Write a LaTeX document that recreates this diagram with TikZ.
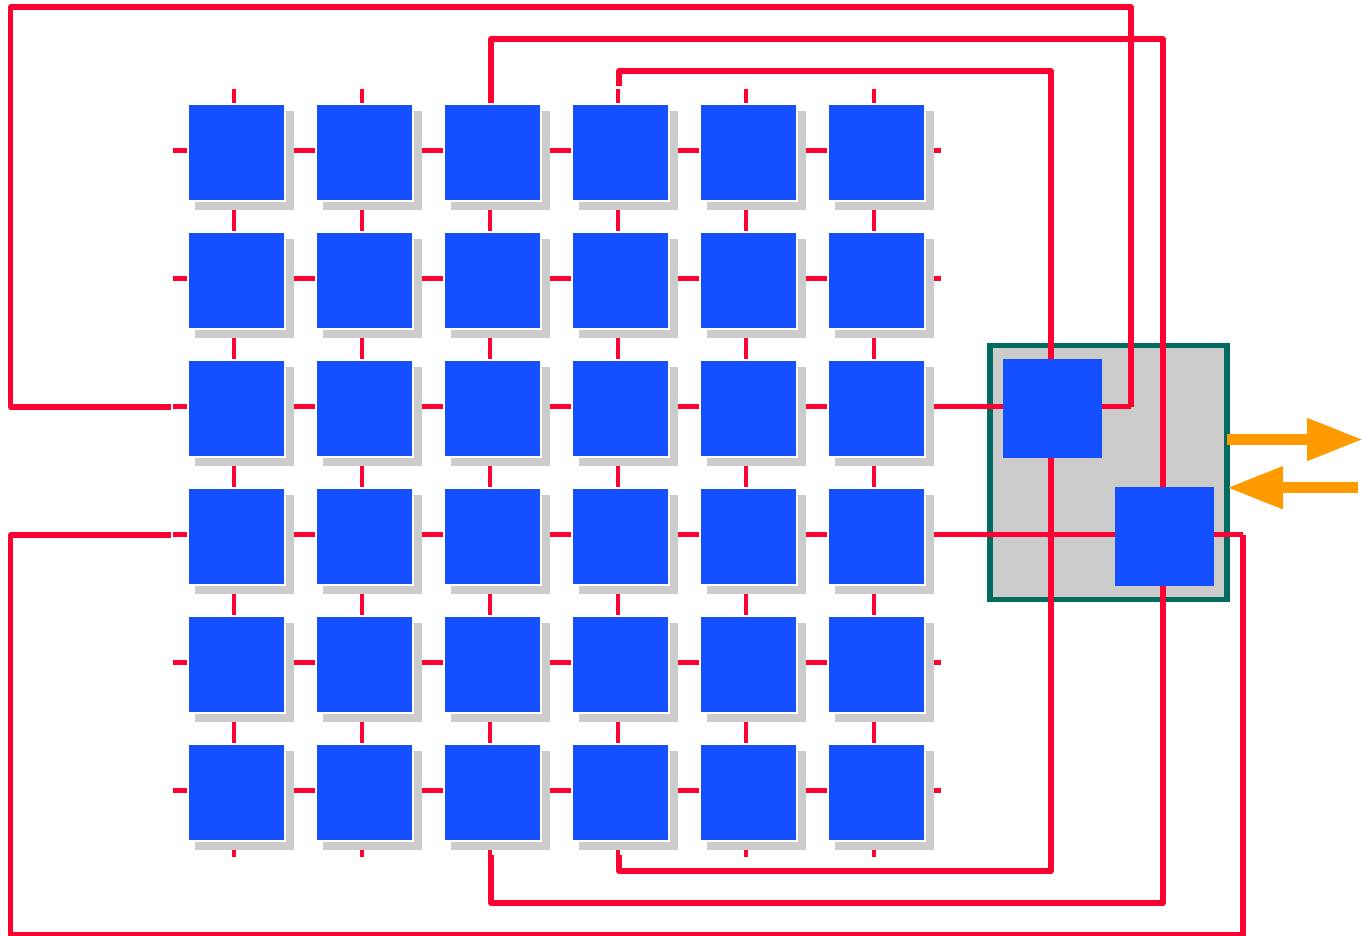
\documentclass[tikz,border=0pt]{standalone}
\usepackage{xcolor}
\usepackage{tikz}
\usetikzlibrary{arrows.meta, backgrounds, shadows}
\definecolor{wirered}{HTML}{FF0033}
\definecolor{cellblue}{HTML}{1450FF}
\definecolor{chipteal}{HTML}{006B5E}
\definecolor{chipgray}{HTML}{CCCCCC}
\definecolor{busorange}{HTML}{FF9B00}

\begin{document}
\begin{tikzpicture}[
  x=1pt, y=-1pt,
  cell/.style={draw=white, line width=2pt, fill=cellblue, minimum size=96.6pt, inner sep=0pt, outer sep=0pt,
    general shadow={shadow xshift=8.2pt, shadow yshift=-8.2pt, shadow scale=1.025, fill=chipgray}},
  iobox/.style={fill=cellblue, minimum size=98.6pt, inner sep=0pt, outer sep=0pt},
  chip/.style={draw=chipteal, line width=5.2pt, fill=chipgray, minimum width=237pt, minimum height=253.4pt, inner sep=0pt, outer sep=0pt},
  link/.style={draw=wirered, line width=4.2pt},
  wire/.style={draw=wirered, line width=5.4pt, line join=round},
  bus/.style={draw=busorange, fill=busorange, line width=11pt, -{Triangle[length=56pt, width=40pt]}}
]
\useasboundingbox (0,0) rectangle (1363,936);

% processor grid
\foreach \r in {1,...,6} {
  \foreach \c in {1,...,6} {
    \node[cell] (c\r-\c) at ({236.3+128*(\c-1)},{152.3+128*(\r-1)}) {};
    \coordinate (p\r-\c) at ({234.2+128*(\c-1)},{150.5+128*(\r-1)});
  }
}

\node[iobox] (boxa) at (1052.4,408.4) {};
\node[iobox] (boxb) at (1164.4,536.4) {};

% free ends
\foreach \k in {1,...,6} {
  \coordinate (nt\k) at ({234.2+128*(\k-1)},89);
  \coordinate (nb\k) at ({234.2+128*(\k-1)},857);
  \coordinate (nl\k) at (173,{150.5+128*(\k-1)});
  \coordinate (nr\k) at (941,{150.5+128*(\k-1)});
}
\coordinate (wl3) at (170.5,407);
\coordinate (wl4) at (170.5,535);
\coordinate (wt3) at (491,103);
\coordinate (wb3) at (491,855);
\coordinate (wt4) at (619,86);
\coordinate (wb4) at (619,855);
\coordinate (ja) at (1131,406.5);
\coordinate (jb) at (1163,536);
\coordinate (jc) at (1243,534.5);
\coordinate (ka) at (1051,408);
\coordinate (outend) at (1363,439.5);
\coordinate (instart) at (1358,487.7);

\begin{scope}[on background layer]
  \node[chip] (soc) at (1108.5,472.5) {};

  \foreach \r in {1,...,6} {
    \draw[link] (nl\r) -- (p\r-1);
    \draw[link] (nt\r) -- (p1-\r);
    \draw[link] (nb\r) -- (p6-\r);
    \foreach \c [count=\n from 2] in {1,...,5} {
      \draw[link] (p\r-\c) -- (p\r-\n);
      \draw[link] (p\c-\r) -- (p\n-\r);
    }
  }
  \foreach \r in {1,2,5,6} {
    \draw[link] (p\r-6) -- (nr\r);
  }
  \draw[link] (p3-6) -- (boxa |- p3-6);
  \draw[link] (p4-6) -- (boxb |- p4-6);
  \draw[link] (boxa |- ja) -- (ja);
  \draw[link] (boxb |- jc) -- (jc);

  % wrap-around wires
  \draw[wire] (wl3) -| (10.7,7) -| (ja);
  \draw[wire] (wl4) -| (10.7,935) -| (jc);
  \draw[wire] (wt3) |- (1163,39) -- (jb) -- (1163,903) -| (wb3);
  \draw[wire] (wt4) |- (1051,71) -- (ka) -- (1051,871) -| (wb4);
\end{scope}

\draw[bus] (soc.east |- outend) -- (outend);
\draw[bus] (instart) -- (soc.east |- instart);
\end{tikzpicture}
\end{document}
